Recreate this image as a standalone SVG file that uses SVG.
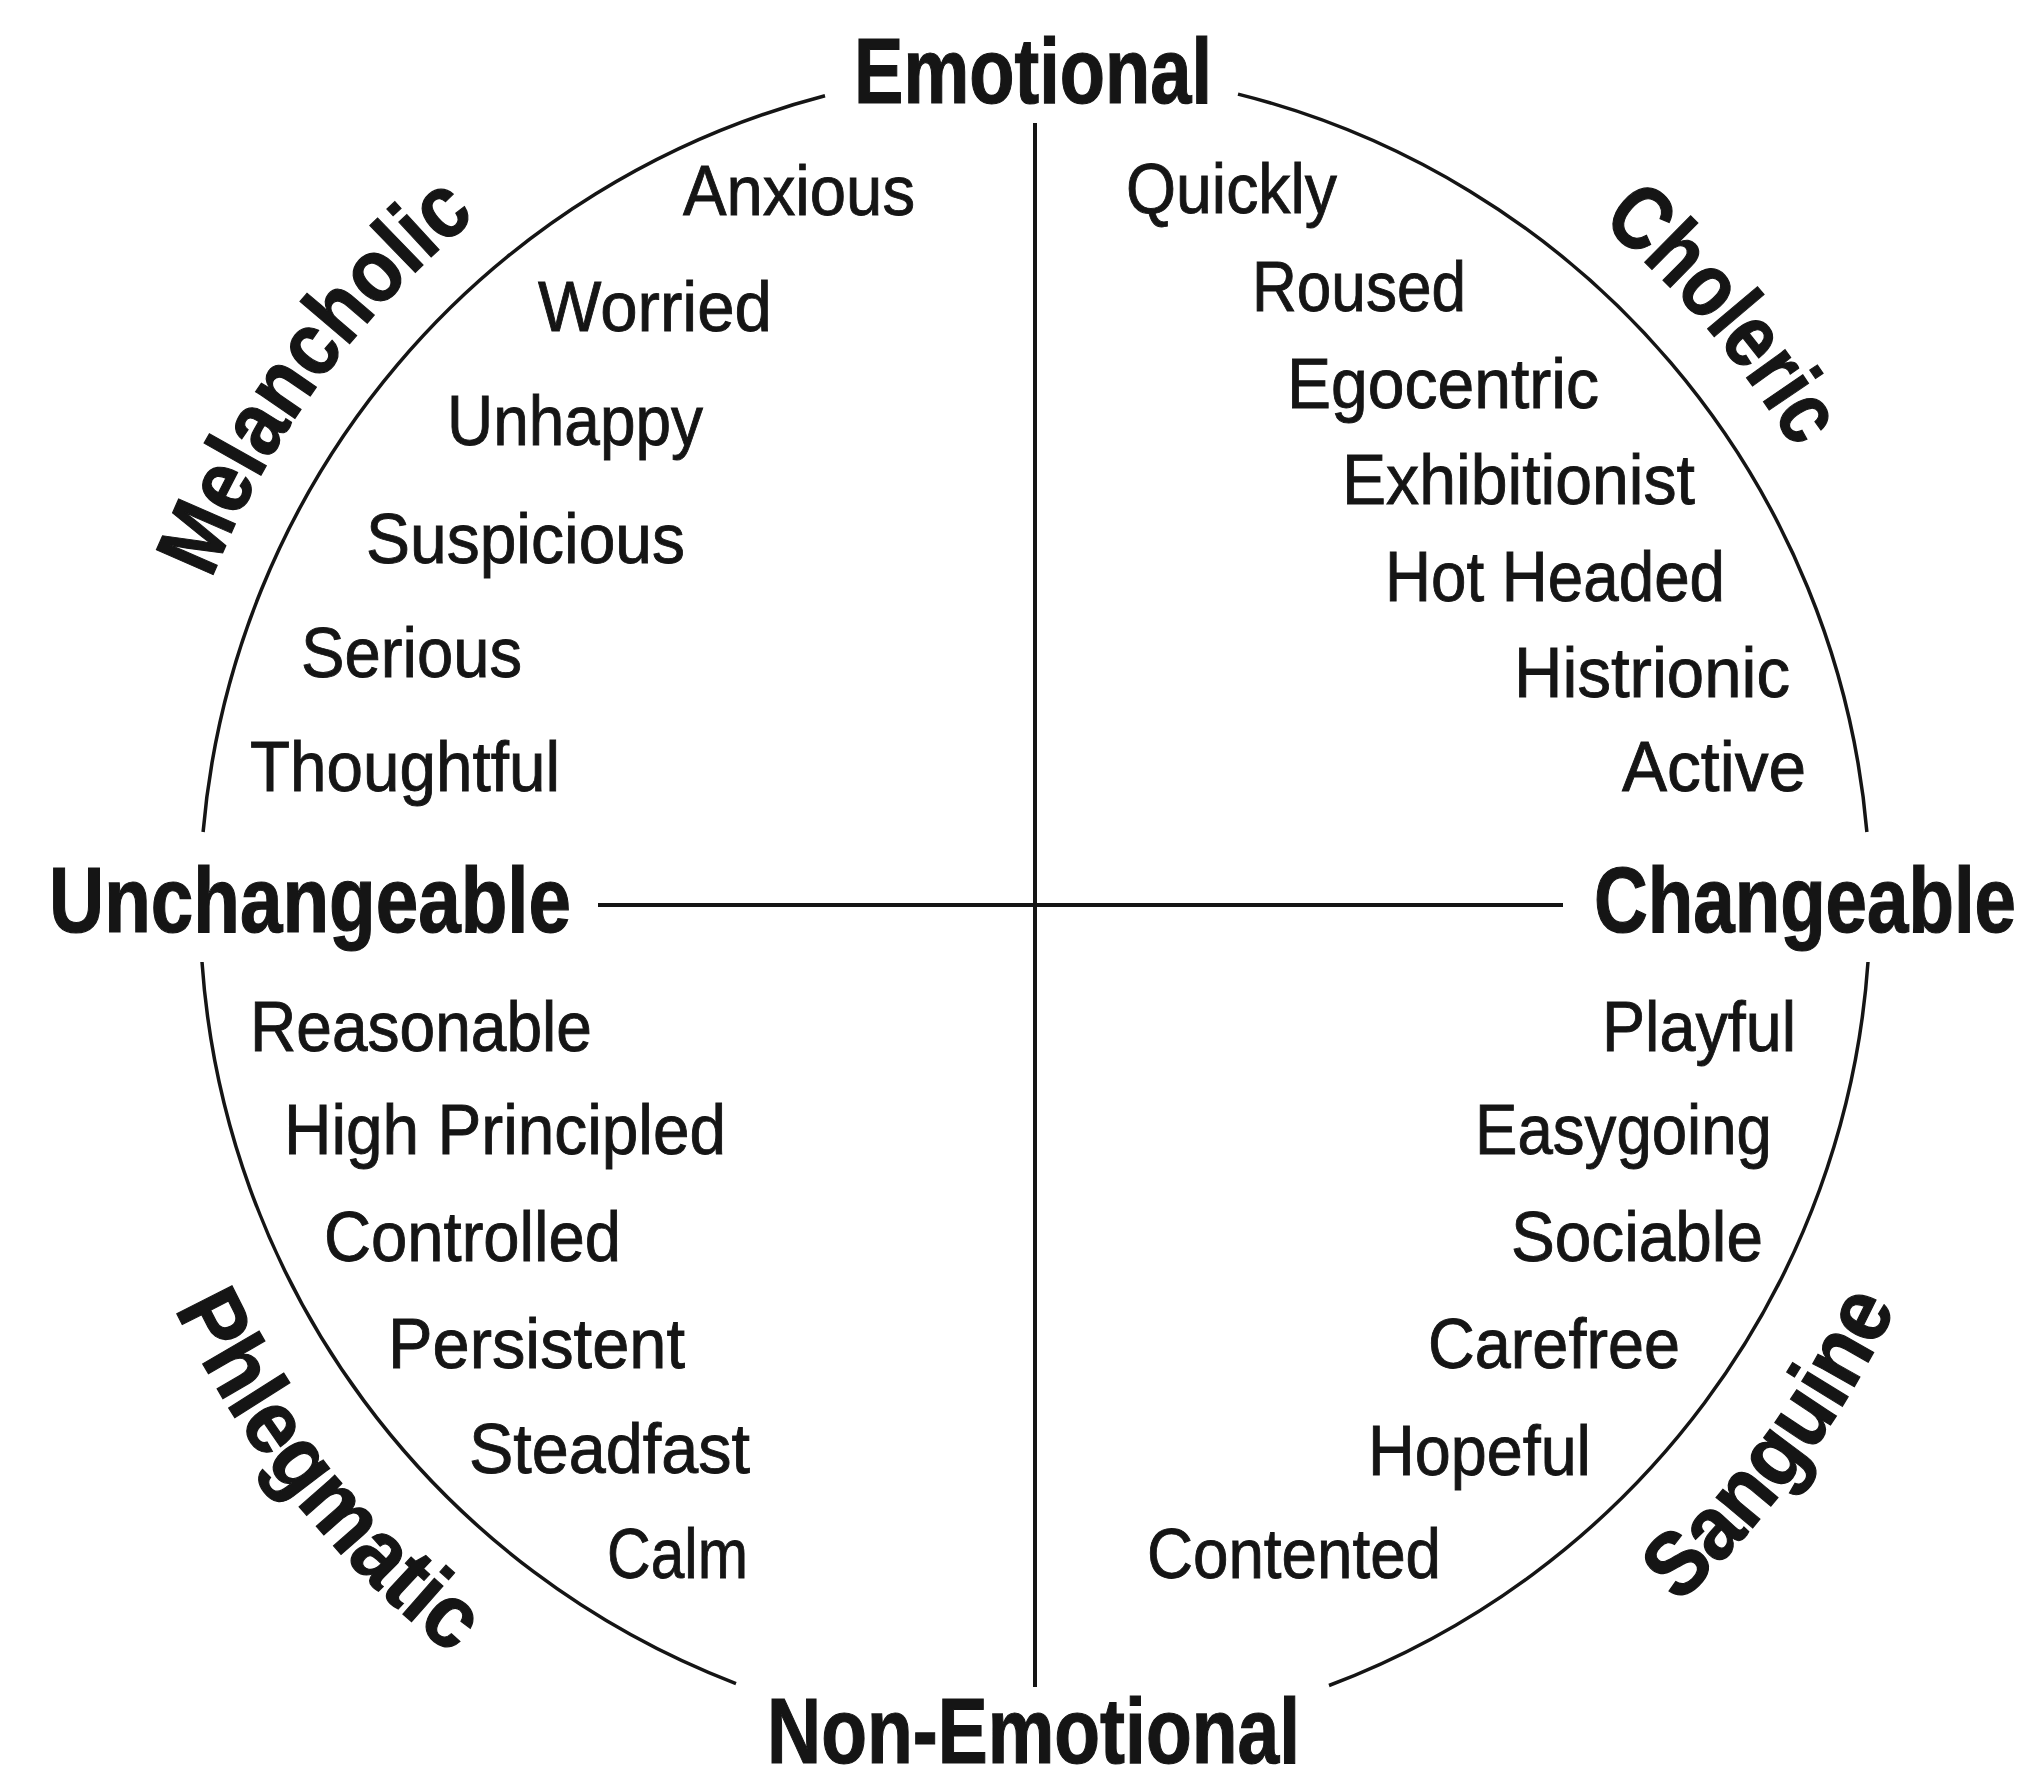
<svg xmlns="http://www.w3.org/2000/svg" width="2031" height="1778" viewBox="0 0 2031 1778">
<style>
.axis{font-family:"Liberation Sans",Arial,sans-serif;font-weight:bold;font-size:92px;fill:#151515;stroke:#151515;stroke-width:1.2}
.temp{font-family:"Liberation Sans",Arial,sans-serif;font-weight:bold;font-size:90px;fill:#151515;stroke:#151515;stroke-width:1.2}
.word{font-family:"Liberation Sans",Arial,sans-serif;font-size:71px;fill:#151515;stroke:#151515;stroke-width:0.9}
.ln{fill:none;stroke:#151515;stroke-width:4}
.arc{fill:none;stroke:#151515;stroke-width:3.5}
</style>
<defs>
<path id="arcTop" d="M 150 904 A 885 885 0 0 1 1920 904" fill="none"/>
<path id="arcBot" d="M 84 904 A 951 951 0 0 0 1986 904" fill="none"/>
</defs>
<rect width="2031" height="1778" fill="#ffffff"/>
<g id="connectors">
<path class="arc" d="M 1238 94.1 A 835 835 0 0 1 1866.9 832"/>
<path class="arc" d="M 1868 962 A 835 835 0 0 1 1329 1685.5"/>
<path class="arc" d="M 736 1683.6 A 835 835 0 0 1 202 962"/>
<path class="arc" d="M 203.1 832 A 835 835 0 0 1 825 95.8"/>
<line class="ln" x1="1035" y1="123" x2="1035" y2="1687"/>
<line class="ln" x1="598" y1="905" x2="1563" y2="905"/>
</g>
<g id="emotional"><text class="axis" x="854" y="103" textLength="358" lengthAdjust="spacingAndGlyphs">Emotional</text></g>
<g id="non-emotional"><text class="axis" x="767" y="1763" textLength="533" lengthAdjust="spacingAndGlyphs">Non-Emotional</text></g>
<g id="unchangeable"><text class="axis" x="49" y="932" textLength="522" lengthAdjust="spacingAndGlyphs">Unchangeable</text></g>
<g id="changeable"><text class="axis" x="1594" y="932" textLength="422" lengthAdjust="spacingAndGlyphs">Changeable</text></g>
<g id="melancholic"><text class="temp" text-anchor="middle"><textPath href="#arcTop" startOffset="559" textLength="454" lengthAdjust="spacingAndGlyphs">Melancholic</textPath></text></g>
<g id="choleric"><text class="temp" text-anchor="middle"><textPath href="#arcTop" startOffset="2153" textLength="300" lengthAdjust="spacingAndGlyphs">Choleric</textPath></text></g>
<g id="phlegmatic"><text class="temp" text-anchor="middle"><textPath href="#arcBot" startOffset="642" textLength="448" lengthAdjust="spacingAndGlyphs">Phlegmatic</textPath></text></g>
<g id="sanguine"><text class="temp" text-anchor="middle"><textPath href="#arcBot" startOffset="2385" textLength="371" lengthAdjust="spacingAndGlyphs">Sanguine</textPath></text></g>
<g id="melancholic-traits">
<text id="anxious" class="word" x="683" y="215" textLength="232" lengthAdjust="spacingAndGlyphs">Anxious</text>
<text id="worried" class="word" x="538" y="331" textLength="234" lengthAdjust="spacingAndGlyphs">Worried</text>
<text id="unhappy" class="word" x="447" y="445" textLength="256" lengthAdjust="spacingAndGlyphs">Unhappy</text>
<text id="suspicious" class="word" x="366" y="563" textLength="319" lengthAdjust="spacingAndGlyphs">Suspicious</text>
<text id="serious" class="word" x="301" y="677" textLength="221" lengthAdjust="spacingAndGlyphs">Serious</text>
<text id="thoughtful" class="word" x="250" y="791" textLength="310" lengthAdjust="spacingAndGlyphs">Thoughtful</text>
</g>
<g id="choleric-traits">
<text id="quickly" class="word" x="1126" y="213" textLength="211" lengthAdjust="spacingAndGlyphs">Quickly</text>
<text id="roused" class="word" x="1252" y="311" textLength="214" lengthAdjust="spacingAndGlyphs">Roused</text>
<text id="egocentric" class="word" x="1287" y="408" textLength="312" lengthAdjust="spacingAndGlyphs">Egocentric</text>
<text id="exhibitionist" class="word" x="1342" y="504" textLength="353" lengthAdjust="spacingAndGlyphs">Exhibitionist</text>
<text id="hot-headed" class="word" x="1385" y="601" textLength="340" lengthAdjust="spacingAndGlyphs">Hot Headed</text>
<text id="histrionic" class="word" x="1514" y="697" textLength="276" lengthAdjust="spacingAndGlyphs">Histrionic</text>
<text id="active" class="word" x="1622" y="791" textLength="184" lengthAdjust="spacingAndGlyphs">Active</text>
</g>
<g id="phlegmatic-traits">
<text id="reasonable" class="word" x="250" y="1051" textLength="342" lengthAdjust="spacingAndGlyphs">Reasonable</text>
<text id="high-principled" class="word" x="284" y="1154" textLength="442" lengthAdjust="spacingAndGlyphs">High Principled</text>
<text id="controlled" class="word" x="324" y="1261" textLength="297" lengthAdjust="spacingAndGlyphs">Controlled</text>
<text id="persistent" class="word" x="388" y="1368" textLength="297" lengthAdjust="spacingAndGlyphs">Persistent</text>
<text id="steadfast" class="word" x="469" y="1473" textLength="281" lengthAdjust="spacingAndGlyphs">Steadfast</text>
<text id="calm" class="word" x="607" y="1578" textLength="141" lengthAdjust="spacingAndGlyphs">Calm</text>
</g>
<g id="sanguine-traits">
<text id="playful" class="word" x="1602" y="1051" textLength="194" lengthAdjust="spacingAndGlyphs">Playful</text>
<text id="easygoing" class="word" x="1475" y="1154" textLength="297" lengthAdjust="spacingAndGlyphs">Easygoing</text>
<text id="sociable" class="word" x="1511" y="1261" textLength="252" lengthAdjust="spacingAndGlyphs">Sociable</text>
<text id="carefree" class="word" x="1428" y="1368" textLength="252" lengthAdjust="spacingAndGlyphs">Carefree</text>
<text id="hopeful" class="word" x="1368" y="1475" textLength="223" lengthAdjust="spacingAndGlyphs">Hopeful</text>
<text id="contented" class="word" x="1147" y="1578" textLength="294" lengthAdjust="spacingAndGlyphs">Contented</text>
</g>
</svg>
